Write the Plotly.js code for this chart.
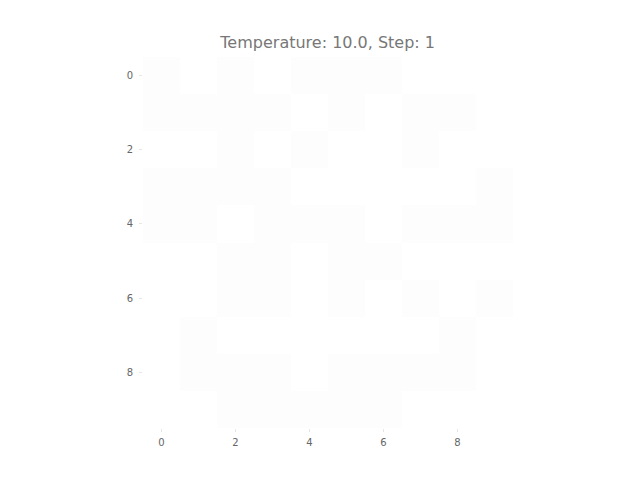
<!DOCTYPE html>
<html>
<head>
<meta charset="utf-8">
<script src="https://cdn.plot.ly/plotly-3.0.1.min.js"></script>
<style>
  html, body { margin: 0; padding: 0; background: #fff; }
  #chart { width: 640px; height: 480px; }
</style>
</head>
<body>
<div id="chart"></div>
<script>
// spin lattice, 10 x 10, row 0 at the top
const rows = [0, 1, 2, 3, 4, 5, 6, 7, 8, 9];
const cols = [0, 1, 2, 3, 4, 5, 6, 7, 8, 9];
const spins = [
  [-1,  1, -1,  1, -1, -1, -1,  1,  1,  1],
  [-1, -1, -1, -1,  1, -1,  1, -1, -1,  1],
  [ 1,  1, -1,  1, -1,  1,  1, -1,  1,  1],
  [-1, -1, -1, -1,  1,  1,  1,  1,  1, -1],
  [-1, -1,  1, -1, -1, -1,  1, -1, -1, -1],
  [ 1,  1, -1, -1,  1, -1, -1,  1,  1,  1],
  [ 1,  1, -1, -1,  1, -1,  1, -1,  1, -1],
  [ 1, -1,  1,  1,  1,  1,  1,  1, -1,  1],
  [ 1, -1, -1, -1,  1, -1, -1, -1, -1,  1],
  [ 1,  1, -1, -1, -1, -1, -1,  1,  1,  1]
];
const tickVals = [0, 2, 4, 6, 8];
const temperature = "10.0";
const step = 1;

const dom = document.getElementById("chart");

const trace = {
  type: "heatmap",
  x: cols,
  y: rows,
  z: spins,
  zmin: -1,
  zmax: 1,
  colorscale: [[0, "#fdfdfd"], [1, "#ffffff"]],
  showscale: false,
  hoverinfo: "skip"
};

const axis = {
  tickvals: tickVals,
  ticks: "outside",
  ticklen: 3,
  tickwidth: 1,
  tickcolor: "#e6e6e6",
  tickfont: { size: 10, color: "#666", family: "DejaVu Sans" },
  showgrid: false,
  zeroline: false,
  showline: false
};

const layout = {
  width: 640,
  height: 480,
  margin: { l: 143, r: 127, t: 57, b: 52 },
  paper_bgcolor: "#ffffff",
  plot_bgcolor: "#ffffff",
  title: {
    text: `Temperature: ${temperature}, Step: ${step}`,
    x: 0.512,
    xanchor: "center",
    y: 0.912,
    yanchor: "middle",
    font: { size: 16, color: "#777", family: "DejaVu Sans" }
  },
  xaxis: { ...axis, range: [-0.5, 9.5], ticklabelstandoff: 2 },
  yaxis: { ...axis, range: [9.5, -0.5], ticklabelstandoff: 4 }
};

Plotly.newPlot(dom, [trace], layout, { displayModeBar: false, staticPlot: true });
</script>
</body>
</html>
